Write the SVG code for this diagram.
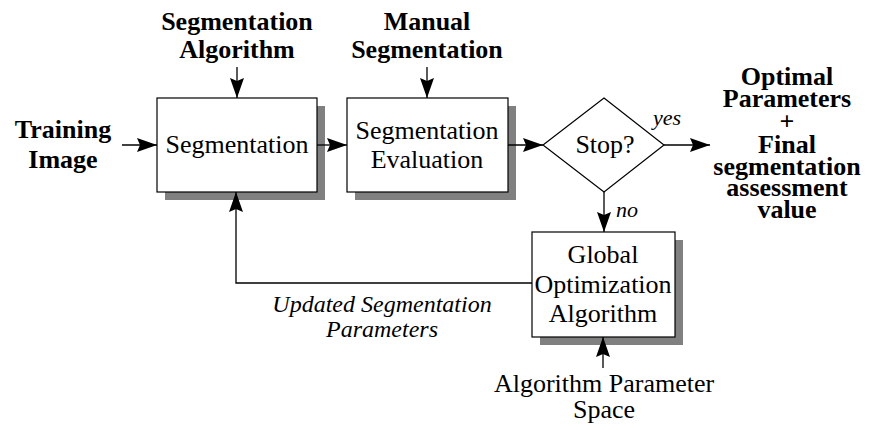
<svg xmlns="http://www.w3.org/2000/svg" width="873" height="430" viewBox="0 0 873 430">
<defs>
<style>
.t{font-family:'Liberation Serif','Times New Roman',serif;font-size:26px;fill:#000;text-anchor:middle}
.b{font-weight:bold}
.i{font-style:italic;font-size:24px}
.s{font-style:italic;font-size:22px}
.box{fill:#fff;stroke:#000;stroke-width:1.2}
.sh{fill:#808080}
.ln{fill:none;stroke:#000;stroke-width:1.3}
</style>
<marker id="ah" markerWidth="20" markerHeight="14" refX="20" refY="7" orient="auto" markerUnits="userSpaceOnUse">
<path d="M0,0 L20,7 L0,14 L3,7 Z" fill="#000"/>
</marker>
</defs>
<rect width="873" height="430" fill="#fff"/>
<g id="training-image">
<text class="t b" x="63" y="138">Training</text>
<text class="t b" x="63" y="168">Image</text>
</g>
<g id="segmentation-algorithm">
<text class="t b" x="237" y="30">Segmentation</text>
<text class="t b" x="237" y="58">Algorithm</text>
</g>
<g id="manual-segmentation">
<text class="t b" x="427" y="30">Manual</text>
<text class="t b" x="427" y="58">Segmentation</text>
</g>
<g id="segmentation">
<rect class="sh" x="165" y="106" width="160" height="94"/>
<rect class="box" x="157" y="98" width="160" height="94"/>
<text class="t" x="237" y="153">Segmentation</text>
</g>
<g id="segmentation-evaluation">
<rect class="sh" x="355" y="106" width="161" height="94"/>
<rect class="box" x="347" y="98" width="161" height="94"/>
<text class="t" x="427" y="139">Segmentation</text>
<text class="t" x="427" y="168">Evaluation</text>
</g>
<g id="stop">
<path class="box" d="M604,98 L664,145 L604,192 L543,145 Z"/>
<text class="t" x="605" y="153">Stop?</text>
</g>
<g id="global-optimization">
<rect class="sh" x="540" y="240" width="143" height="105"/>
<rect class="box" x="532" y="232" width="143" height="105"/>
<text class="t" x="603" y="263">Global</text>
<text class="t" x="603" y="293">Optimization</text>
<text class="t" x="603" y="322">Algorithm</text>
</g>
<g id="algorithm-parameter-space">
<text class="t" x="604" y="392">Algorithm Parameter</text>
<text class="t" x="604" y="418">Space</text>
</g>
<g id="output">
<text class="t b" x="787" y="85">Optimal</text>
<text class="t b" x="787" y="107">Parameters</text>
<text class="t b" x="787" y="130">+</text>
<text class="t b" x="787" y="153">Final</text>
<text class="t b" x="787" y="175">segmentation</text>
<text class="t b" x="787" y="196">assessment</text>
<text class="t b" x="787" y="218">value</text>
</g>
<g id="connectors">
<line class="ln" x1="122" y1="145" x2="157" y2="145" marker-end="url(#ah)"/>
<line class="ln" x1="237" y1="67" x2="237" y2="98" marker-end="url(#ah)"/>
<line class="ln" x1="427" y1="67" x2="427" y2="98" marker-end="url(#ah)"/>
<line class="ln" x1="317" y1="145" x2="347" y2="145" marker-end="url(#ah)"/>
<line class="ln" x1="508" y1="145" x2="543" y2="145" marker-end="url(#ah)"/>
<line class="ln" x1="664" y1="145" x2="710" y2="145" marker-end="url(#ah)"/>
<line class="ln" x1="604" y1="192" x2="604" y2="232" marker-end="url(#ah)"/>
<polyline class="ln" points="532,283 236,283 236,192" marker-end="url(#ah)"/>
<line class="ln" x1="603" y1="368" x2="603" y2="337" marker-end="url(#ah)"/>
<text class="t s" x="667" y="125">yes</text>
<text class="t s" x="627" y="217">no</text>
<text class="t i" x="382" y="312">Updated Segmentation</text>
<text class="t i" x="382" y="337">Parameters</text>
</g>
</svg>
